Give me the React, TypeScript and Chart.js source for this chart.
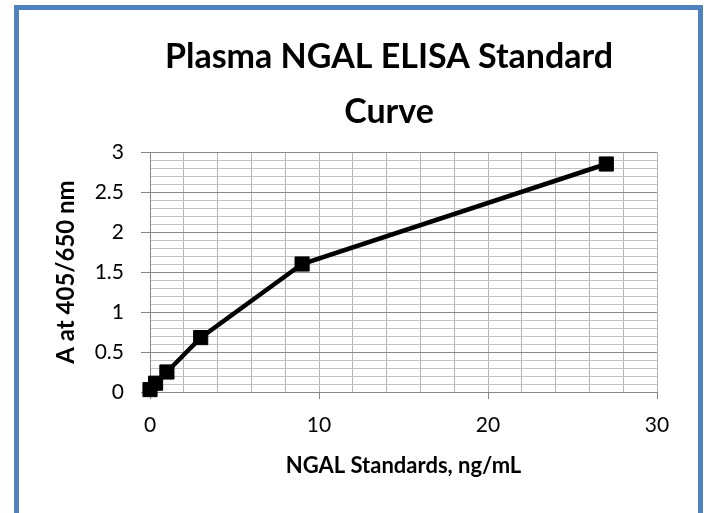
import React, { useEffect, useRef } from 'react';
import { Chart, registerables } from 'chart.js';

Chart.register(...registerables);

const TITLE_LINES = ['Plasma NGAL ELISA Standard', 'Curve'];
const X_TITLE = 'NGAL Standards, ng/mL';
const Y_TITLE = 'A at 405/650 nm';

const standards = [0, 0.33, 1, 3, 9, 27];
const absorbance = [0.03, 0.11, 0.25, 0.68, 1.6, 2.85];

const xTickLabels = [0, 10, 20, 30];
const yTickLabels = [0, 0.5, 1, 1.5, 2, 2.5, 3];

const FONT = 'Lato, "Open Sans", sans-serif';

const isIn = (list: number[], v: number) => list.some((t) => Math.abs(t - v) < 1e-6);

// Excel centres the title slightly left of the plot area centre
const titleBoxPlugin = {
  id: 'titleBox',
  afterLayout(chart: any) {
    const t = chart.titleBlock;
    if (t) {
      t.left = 121;
      t.right = 657;
    }
  },
};

export default function App() {
  const canvasRef = useRef<HTMLCanvasElement | null>(null);

  useEffect(() => {
    const canvas = canvasRef.current;
    if (!canvas) return;
    const chart = new Chart(canvas, {
      type: 'line',
      data: {
        datasets: [
          {
            label: 'Standard curve',
            data: standards.map((x, i) => ({ x, y: absorbance[i] })),
            borderColor: '#000000',
            backgroundColor: '#000000',
            borderWidth: 4.5,
            pointStyle: 'rect',
            pointRadius: 10,
            pointBorderWidth: 1,
            pointBackgroundColor: '#000000',
            pointBorderColor: '#000000',
            tension: 0,
            clip: false as any,
          },
        ],
      },
      plugins: [titleBoxPlugin],
      options: {
        responsive: false,
        animation: false,
        events: [],
        layout: { padding: { left: 54, right: 50, top: 0, bottom: 35 } },
        plugins: {
          legend: { display: false },
          tooltip: { enabled: false },
          title: {
            display: true,
            text: TITLE_LINES,
            color: '#000000',
            font: { family: FONT, size: 34, weight: 'bold', lineHeight: '55px' as any },
            padding: { top: 30, bottom: 12 },
          },
        },
        scales: {
          x: {
            type: 'linear',
            min: 0,
            max: 30,
            afterFit: (s: any) => {
              s.height = 86;
            },
            ticks: {
              stepSize: 2,
              autoSkip: false,
              maxRotation: 0,
              minRotation: 0,
              maxTicksLimit: 1000,
              padding: 14,
              color: '#000000',
              font: { family: FONT, size: 21 },
              callback: (v: any) => (isIn(xTickLabels, Number(v)) ? String(v) : ''),
            },
            grid: {
              color: '#b6b6b6',
              lineWidth: 1,
              tickLength: 7,
              tickColor: (ctx: any) =>
                ctx.tick && isIn(xTickLabels, ctx.tick.value) ? '#868686' : 'rgba(0,0,0,0)',
            },
            border: { display: true, color: '#868686', width: 1 },
            title: {
              display: true,
              text: X_TITLE,
              color: '#000000',
              font: { family: FONT, size: 22, weight: 'bold', lineHeight: 1.1 },
              padding: { top: 0, bottom: 0 },
            },
          },
          y: {
            type: 'linear',
            min: 0,
            max: 3,
            afterFit: (s: any) => {
              s.width = 96;
            },
            ticks: {
              stepSize: 0.1,
              autoSkip: false,
              maxTicksLimit: 1000,
              padding: 17,
              color: '#000000',
              font: { family: FONT, size: 21 },
              callback: (v: any) => (isIn(yTickLabels, Number(v)) ? String(Number(v)) : ''),
            },
            grid: {
              color: (ctx: any) =>
                ctx.tick && isIn(yTickLabels, ctx.tick.value) ? '#8a8a8a' : '#c2c2c2',
              lineWidth: 1,
              tickLength: 9,
              tickColor: (ctx: any) =>
                ctx.tick && isIn(yTickLabels, ctx.tick.value) ? '#868686' : 'rgba(0,0,0,0)',
            },
            border: { display: true, color: '#868686', width: 1 },
            title: {
              display: true,
              text: Y_TITLE,
              color: '#000000',
              font: { family: FONT, size: 24, weight: 'bold', lineHeight: 1.0 },
              padding: { top: 0, bottom: 0 },
            },
          },
        },
      },
    });
    return () => chart.destroy();
  }, []);

  return (
    <div
      style={{
        position: 'absolute',
        left: 0,
        top: 0,
        width: 707,
        height: 513,
        overflow: 'hidden',
        background: '#ffffff',
      }}
    >
      <div
        style={{
          position: 'absolute',
          left: 14,
          top: 5,
          width: 689,
          height: 600,
          boxSizing: 'border-box',
          border: '5px solid #4f81bd',
        }}
      />
      <canvas
        ref={canvasRef}
        width={707}
        height={513}
        style={{ position: 'absolute', left: 0, top: 0, width: 707, height: 513 }}
      />
    </div>
  );
}
